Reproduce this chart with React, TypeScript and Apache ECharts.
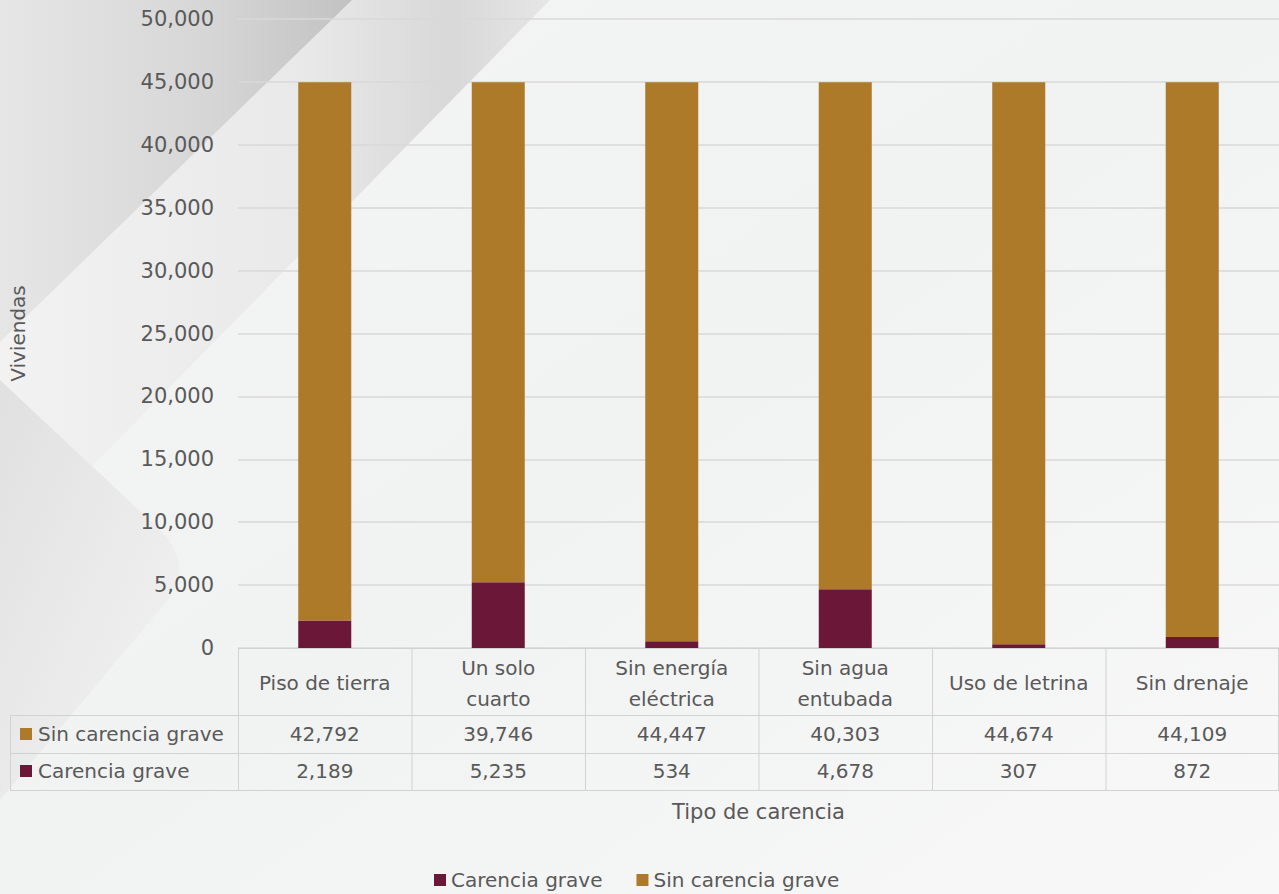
import React, { useEffect, useRef } from "react";
import * as echarts from "echarts";

const categories = ["Piso de tierra", "Un solo\ncuarto", "Sin energía\neléctrica", "Sin agua\nentubada", "Uso de letrina", "Sin drenaje"];
const carenciaGrave = [2189, 5235, 534, 4678, 307, 872];
const sinCarenciaGrave = [42792, 39746, 44447, 40303, 44674, 44109];
const seriesNames = ["Carencia grave", "Sin carencia grave"];
const yTicks = { min: 0, max: 50000, interval: 5000 };

const COLOR_GRAVE = "#6b1838";
const COLOR_SIN = "#ad7a29";
const TEXT = "#595959";
const FONT = "DejaVu Sans";
const BORDER = "#d2d2d2";

const W = 1279;
const H = 894;
const GRID_L = 238;
const GRID_R = 1279;
const GRID_T = 19;
const AXIS_Y = 648;
const ROW1 = 715;
const ROW2 = 753;
const ROW3 = 790;

const fmt = (v: number) => v.toLocaleString("en-US");

export default function App() {
  const ref = useRef<HTMLDivElement>(null);
  useEffect(() => {
    document.body.style.margin = "0";
    if (!ref.current) return;
    const chart = echarts.init(ref.current, undefined, { renderer: "svg" });
    const n = categories.length;
    const colW = (GRID_R - GRID_L) / n;

    const lines: any[] = [];
    const hl = (y: number, x1: number, x2: number) =>
      lines.push({ type: "line", z: 5, shape: { x1, y1: y + 0.5, x2, y2: y + 0.5 }, style: { stroke: BORDER, lineWidth: 1 } });
    const vl = (x: number, y1: number, y2: number) =>
      lines.push({ type: "line", z: 5, shape: { x1: x + 0.5, y1, x2: x + 0.5, y2 }, style: { stroke: BORDER, lineWidth: 1 } });
    hl(AXIS_Y, GRID_L, GRID_R);
    hl(ROW1, 10, GRID_R);
    hl(ROW2, 10, GRID_R);
    hl(ROW3, 10, GRID_R);
    vl(10, ROW1, ROW3);
    for (let i = 0; i <= n; i++) vl(Math.min(GRID_L + i * colW, GRID_R - 1), AXIS_Y, ROW3);

    const rowLabel = (name: string, color: string, yc: number) => [
      { type: "rect", z: 6, shape: { x: 20, y: yc - 6, width: 12, height: 12 }, style: { fill: color } },
      { type: "text", z: 6, x: 38, y: yc, style: { text: name, fill: TEXT, font: `20px "${FONT}"`, verticalAlign: "middle", align: "left" } },
    ];

    echarts.graphic.registerShape(
      "fold",
      echarts.graphic.extendPath("M0,380 L158,528 Q196,564 166,602 L0,800 Z", {})
    );

    const bg: any[] = [
      {
        type: "rect", z: -20, shape: { x: 0, y: 0, width: W, height: H },
        style: { fill: new echarts.graphic.LinearGradient(0, 0, 1, 1, [
          { offset: 0, color: "#f4f4f4" }, { offset: 0.5, color: "#f1f2f2" }, { offset: 1, color: "#f8f8f8" }]) },
      },
      {
        type: "polygon", z: -19, shape: { points: [[350, 0], [550, 0], [0, 560], [0, 340]] },
        style: { fill: new echarts.graphic.LinearGradient(0, 0, 1, 0, [
          { offset: 0, color: "#f2f2f2" }, { offset: 0.55, color: "#e9e9e9" }, { offset: 0.82, color: "#d8d8d8" }, { offset: 1, color: "#e6e6e6" }]) },
      },
      {
        type: "polygon", z: -18, shape: { points: [[0, 0], [352, 0], [0, 342]] },
        style: { fill: new echarts.graphic.LinearGradient(0, 0, 1, 0, [
          { offset: 0, color: "#e6e6e6" }, { offset: 0.6, color: "#d6d6d6" }, { offset: 1, color: "#c2c2c2" }]) },
      },
      {
        type: "fold", z: -17, x: 0, y: 0, scaleX: 1, scaleY: 1,
        style: { fill: new echarts.graphic.LinearGradient(0, 0, 1, 1, [
          { offset: 0, color: "#e0e0e0" }, { offset: 0.5, color: "#eaeaea" }, { offset: 1, color: "#f3f3f3" }]) },
      },
    ];

    chart.setOption({
      animation: false,
      textStyle: { fontFamily: FONT, color: TEXT },
      grid: { left: GRID_L, right: W - GRID_R, top: GRID_T, bottom: H - AXIS_Y, containLabel: false },
      legend: {
        data: seriesNames, left: 434, top: 869, padding: 0, icon: "rect", itemWidth: 12, itemHeight: 12, itemGap: 34,
        textStyle: { fontSize: 20, lineHeight: 22, color: TEXT, fontFamily: FONT },
      },
      xAxis: [
        {
          type: "category", data: categories, position: "bottom",
          axisLine: { show: false }, axisTick: { show: false },
          axisLabel: { interval: 0, margin: 35, verticalAlign: "middle", fontSize: 20, lineHeight: 31, color: TEXT, fontFamily: FONT },
        },
        {
          type: "category", data: categories, position: "bottom", offset: ROW1 - AXIS_Y,
          axisLine: { show: false }, axisTick: { show: false },
          axisLabel: { interval: 0, margin: 19, verticalAlign: "middle", fontSize: 20, color: TEXT, fontFamily: FONT,
            formatter: (_v: string, i: number) => fmt(sinCarenciaGrave[i]) },
        },
        {
          type: "category", data: categories, position: "bottom", offset: ROW2 - AXIS_Y,
          axisLine: { show: false }, axisTick: { show: false },
          axisLabel: { interval: 0, margin: 18, verticalAlign: "middle", fontSize: 20, color: TEXT, fontFamily: FONT,
            formatter: (_v: string, i: number) => fmt(carenciaGrave[i]) },
          name: "Tipo de carencia", nameLocation: "middle", nameGap: 48,
          nameTextStyle: { fontSize: 21, color: TEXT, fontFamily: FONT },
        },
      ],
      yAxis: {
        type: "value", min: yTicks.min, max: yTicks.max, interval: yTicks.interval,
        axisLine: { show: false }, axisTick: { show: false },
        axisLabel: { margin: 24, fontSize: 21, color: TEXT, fontFamily: FONT, formatter: (v: number) => fmt(v) },
        splitLine: { lineStyle: { color: "#d9d9d9", width: 1.5 } },
        name: "Viviendas", nameLocation: "middle", nameGap: 210, nameRotate: 90,
        nameTextStyle: { fontSize: 20, color: TEXT, fontFamily: FONT },
      },
      series: [
        { name: seriesNames[0], type: "bar", stack: "total", xAxisIndex: 0, barWidth: 53, data: carenciaGrave, itemStyle: { color: COLOR_GRAVE } },
        { name: seriesNames[1], type: "bar", stack: "total", xAxisIndex: 0, barWidth: 53, data: sinCarenciaGrave, itemStyle: { color: COLOR_SIN } },
      ],
      graphic: [
        ...bg,
        ...lines,
        ...rowLabel(seriesNames[1], COLOR_SIN, 734),
        ...rowLabel(seriesNames[0], COLOR_GRAVE, 771),
      ],
    });
    return () => chart.dispose();
  }, []);
  return <div ref={ref} style={{ position: "absolute", left: 0, top: 0, width: W, height: H }} />;
}
